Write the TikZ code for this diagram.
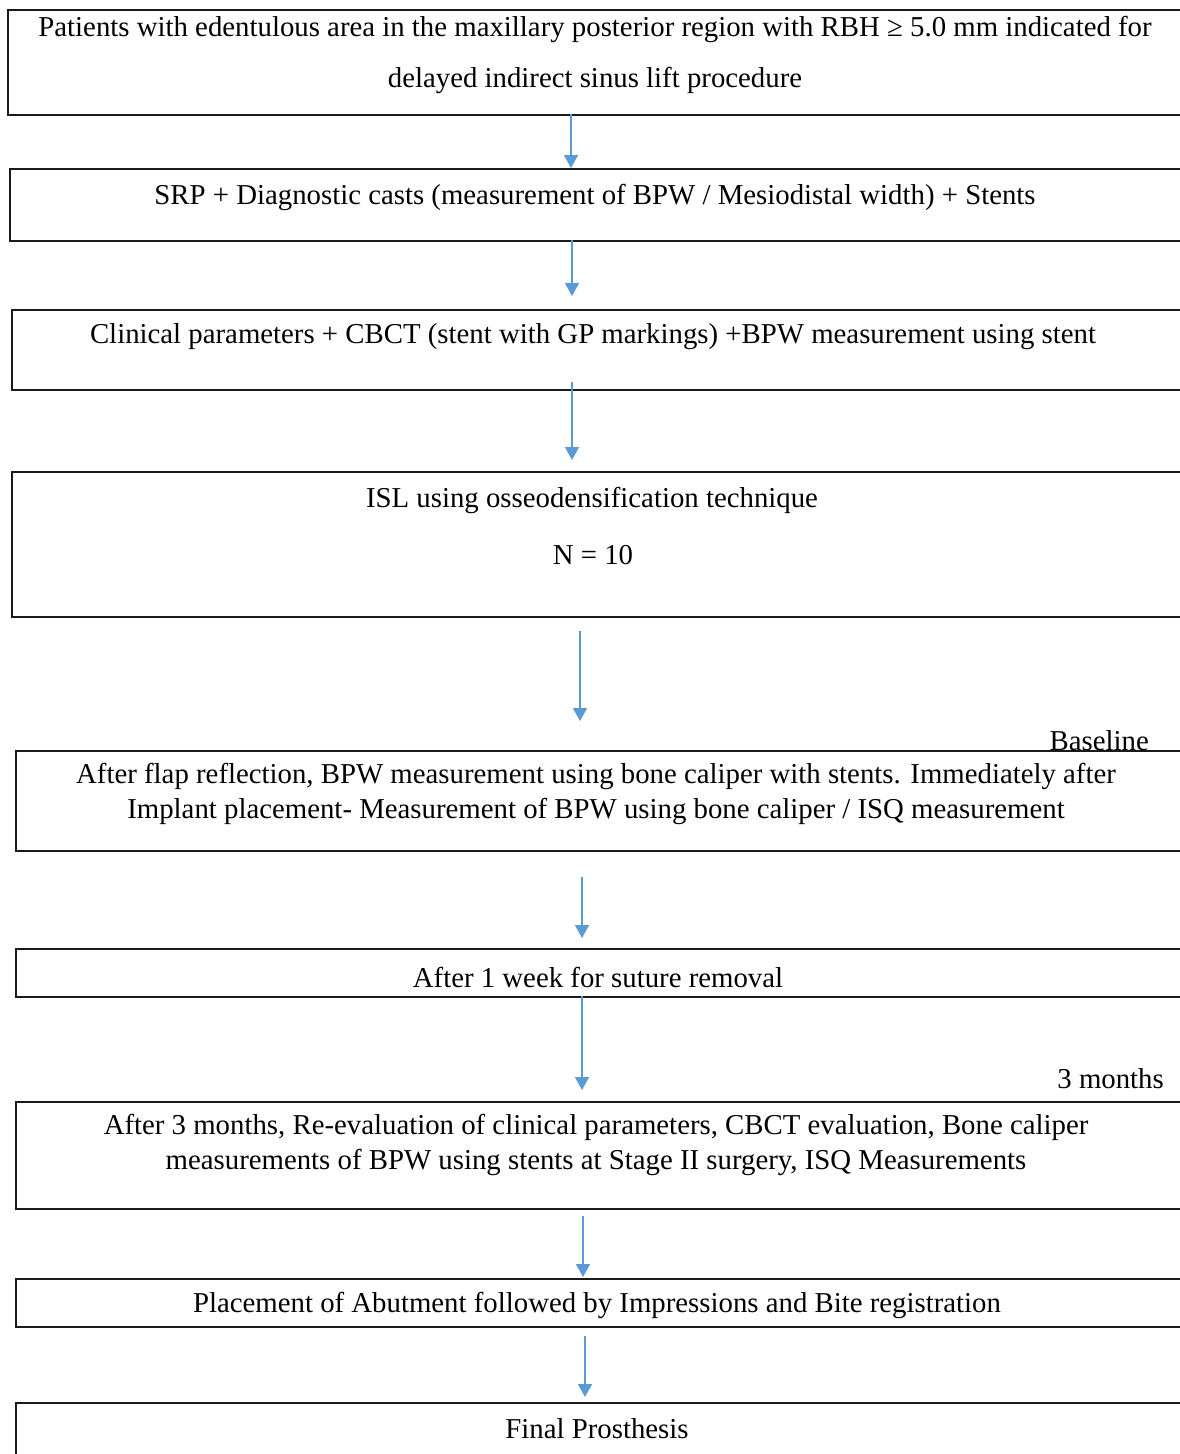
\documentclass[tikz,border=0pt]{standalone}
\usepackage{fontspec}
\setmainfont{Liberation Serif}
\usetikzlibrary{arrows.meta}
\definecolor{arrowblue}{HTML}{5B9BD5}
\definecolor{boxline}{HTML}{1A1A1A}
\tikzset{
  box/.style={draw=boxline, line width=2.2pt, rectangle, anchor=north west, minimum width=1300pt, inner sep=0pt},
  txt/.style={font=\fontsize{28.8}{35}\selectfont, align=center, inner sep=0pt, anchor=center},
  tag/.style={font=\fontsize{28.8}{30}\selectfont, inner sep=0pt},
  arr/.style={draw=arrowblue, line width=1.6pt, -{Triangle[length=13pt,width=14pt]}},
}
\begin{document}
\begin{tikzpicture}[x=1pt,y=-1pt]
\useasboundingbox (0,0) rectangle (1180,1454);
\clip (0,0) rectangle (1180,1454);
\fill[white] (0,0) rectangle (1180,1454);
% boxes
\node[box, minimum height=105pt] (b1) at (7,9) {};
\node[box, minimum height=72pt]  (b2) at (9,168) {};
\node[box, minimum height=80pt]  (b3) at (11,309) {};
\node[box, minimum height=145pt] (b4) at (11,471) {};
\node[box, minimum height=100pt] (b5) at (15,750) {};
\node[box, minimum height=48pt]  (b6) at (15,948) {};
\node[box, minimum height=107pt] (b7) at (15,1101) {};
\node[box, minimum height=48pt]  (b8) at (15,1278) {};
\node[box, minimum height=100pt] (b9) at (15,1402) {};
% texts
\node[txt, font=\fontsize{28.8}{51}\selectfont] (t1) at (595,55) {Patients with edentulous area in the maxillary posterior region with RBH ≥ 5.0 mm indicated for\\delayed indirect sinus lift procedure};
\node[txt] (t2) at (595,197) {SRP + Diagnostic casts (measurement of BPW / Mesiodistal width) + Stents};
\node[txt] (t3) at (593,337) {Clinical parameters + CBCT (stent with GP markings) +BPW measurement using stent};
\node[txt] (t4a) at (592,500) {ISL using osseodensification technique};
\node[txt] (t4b) at (593,555) {N = 10};
\node[txt] (t5) at (596,794) {After flap reflection, BPW measurement using bone caliper with stents. Immediately after\\Implant placement- Measurement of BPW using bone caliper / ISQ measurement};
\node[txt] (t6) at (598,977) {After 1 week for suture removal};
\node[txt] (t7) at (596,1145) {After 3 months, Re-evaluation of clinical parameters, CBCT evaluation, Bone caliper\\measurements of BPW using stents at Stage II surgery, ISQ Measurements};
\node[txt] (t8) at (597,1305) {Placement of Abutment followed by Impressions and Bite registration};
\node[txt] (t9) at (597,1429) {Final Prosthesis};
\node[tag, anchor=east] (l1) at (1149,741) {Baseline};
\node[tag, anchor=east] (l2) at (1164,1079) {3 months};
% arrow end points
\coordinate (a1s) at (571,114);  \coordinate (a1e) at (571,168);
\coordinate (a2s) at (572,240);  \coordinate (a2e) at (572,296);
\coordinate (a3s) at (572,382);  \coordinate (a3e) at (572,460);
\coordinate (a4s) at (580,631);  \coordinate (a4e) at (580,721);
\coordinate (a5s) at (582,877);  \coordinate (a5e) at (582,938);
\coordinate (a6s) at (582,996);  \coordinate (a6e) at (582,1090);
\coordinate (a7s) at (583,1216); \coordinate (a7e) at (583,1277);
\coordinate (a8s) at (585,1336); \coordinate (a8e) at (585,1397);
\draw[arr] (a1s) -- (a1e);
\draw[arr] (a2s) -- (a2e);
\draw[arr] (a3s) -- (a3e);
\draw[arr] (a4s) -- (a4e);
\draw[arr] (a5s) -- (a5e);
\draw[arr] (a6s) -- (a6e);
\draw[arr] (a7s) -- (a7e);
\draw[arr] (a8s) -- (a8e);
\end{tikzpicture}
\end{document}
